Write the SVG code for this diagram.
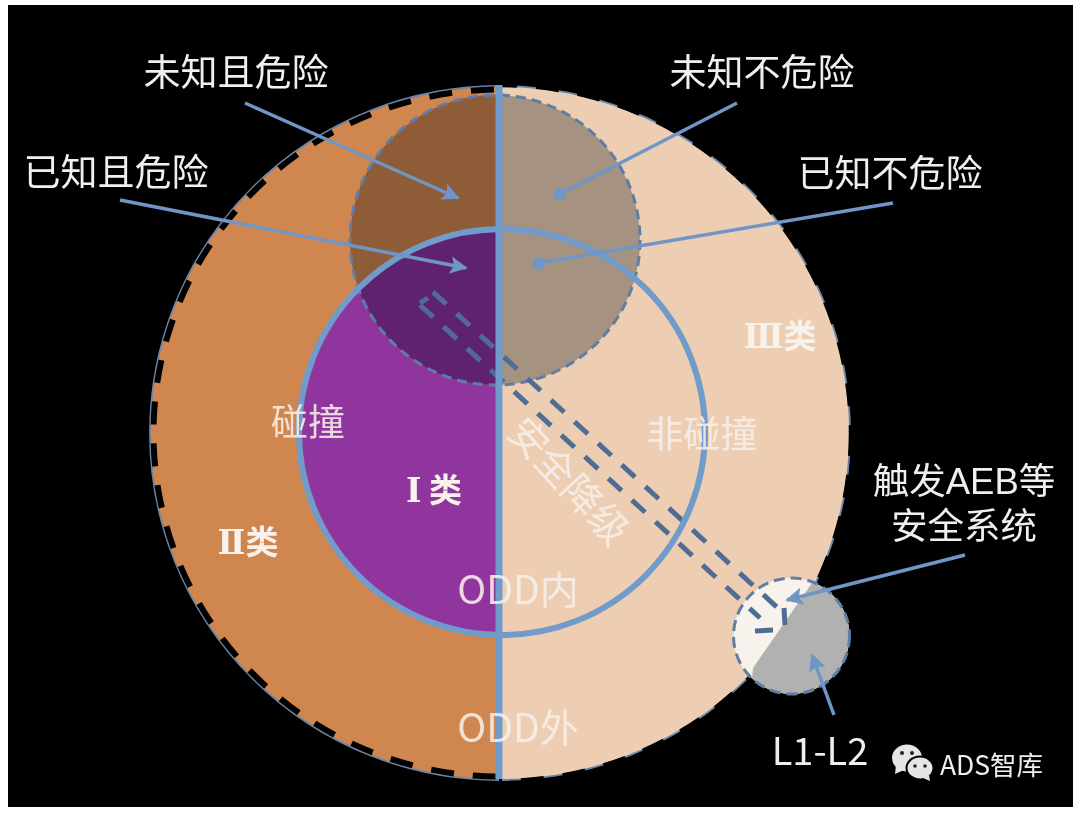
<svg xmlns="http://www.w3.org/2000/svg" width="1080" height="814" viewBox="0 0 1080 814">
<style>
text{font-family:"Noto Sans CJK SC","Liberation Sans",sans-serif;fill:#efefef;text-anchor:middle}
.lab{font-size:37px}
.two{font-family:"Liberation Sans","Noto Sans CJK SC",sans-serif;font-size:36.500px}
.mid{font-size:37px;fill:#f7efe9;opacity:.88}
.odd{font-size:39px;fill:#f7efe9;opacity:.88}
.cls{font-size:33px;font-weight:700;fill:#f8f1ec}
.num{font-family:"DejaVu Serif","Liberation Serif",serif;font-weight:700}
.arrow{fill:none;stroke:#6f96c6;stroke-width:3.500}
.dash{fill:none;stroke:#4f6d94;stroke-width:5;stroke-dasharray:18 14}
.end{fill:none;stroke:#4f6d94;stroke-width:5}
</style>
<defs>
<filter id="soft" x="0" y="0" width="100%" height="100%"><feGaussianBlur stdDeviation="0.600"/></filter>
<clipPath id="L"><rect x="0" y="0" width="499" height="814"/></clipPath>
<clipPath id="R"><rect x="499" y="0" width="581" height="814"/></clipPath>
<clipPath id="top"><circle cx="495" cy="240" r="145"/></clipPath>
<clipPath id="small"><circle cx="791.500" cy="636" r="58"/></clipPath>
<marker id="tri" viewBox="0 0 10 10" refX="9" refY="5" markerWidth="5" markerHeight="5" orient="auto"><path d="M0 0L10 5L0 10L2 5z" fill="#6f96c6"/></marker>
<marker id="dot" viewBox="0 0 10 10" refX="5" refY="5" markerWidth="4" markerHeight="3.600"><circle cx="5" cy="5" r="5" fill="#6f96c6"/></marker>
</defs>
<rect width="1080" height="814" fill="#fff"/>
<g filter="url(#soft)">
<rect x="8" y="5" width="1065" height="802" fill="#000"/>
<g id="outer-circle">
<ellipse cx="500" cy="433" rx="350" ry="347" fill="#d0864f" clip-path="url(#L)"/>
<ellipse cx="500" cy="433" rx="350" ry="347" fill="#edceb2" clip-path="url(#R)"/>
<ellipse cx="500" cy="433" rx="350" ry="347" fill="none" stroke="#6b86a8" stroke-width="1.800"/>
<g clip-path="url(#L)"><ellipse cx="500" cy="433" rx="346.500" ry="343.500" fill="none" stroke="#000" stroke-width="6" stroke-dasharray="23 19"/></g>
<g clip-path="url(#R)"><ellipse cx="500" cy="433" rx="350.500" ry="347.500" fill="none" stroke="#000" stroke-width="3.500" stroke-dasharray="23 19"/></g>
</g>
<g id="inner-circle">
<circle cx="502" cy="432" r="203" fill="#90359d" clip-path="url(#L)"/>
</g>
<g id="top-circle">
<circle cx="495" cy="240" r="145" fill="#8f5c38" clip-path="url(#L)"/>
<circle cx="495" cy="240" r="145" fill="#a59280" clip-path="url(#R)"/>
<g clip-path="url(#top)"><circle cx="502" cy="432" r="203" fill="#5f2470" clip-path="url(#L)"/></g>
<circle cx="495" cy="240" r="145" fill="none" stroke="#5f7ea6" stroke-width="3" stroke-dasharray="10 6"/>
</g>
<g id="small-circle">
<circle cx="791.500" cy="636" r="58" fill="#f8f2ec"/>
<path d="M753 668L812 583L860 600L860 700L750 700z" fill="#b1b1b1" clip-path="url(#small)"/>
<circle cx="791.500" cy="636" r="58" fill="none" stroke="#5f7ea6" stroke-width="3" stroke-dasharray="11 6"/>
</g>
<g id="connectors">
<path class="dash" d="M433 292L780 610"/>
<path class="dash" d="M420 305L760 618"/>
<path class="end" d="M420 303L428 298M784 608L785 625M755 631L773 630"/>
<circle cx="502" cy="432" r="203" fill="none" stroke="#6f9bcb" stroke-width="6"/>
<path d="M499 85V779" stroke="#6f9bcb" stroke-width="7" fill="none"/>
<path class="arrow" marker-end="url(#tri)" d="M245 103L458 198"/>
<path class="arrow" marker-end="url(#tri)" d="M120 200L466 268"/>
<path class="arrow" marker-end="url(#dot)" d="M737 103L560 194"/>
<path class="arrow" marker-end="url(#dot)" d="M893 203L539 263"/>
<path class="arrow" marker-end="url(#tri)" d="M965 555L787 600"/>
<path class="arrow" marker-end="url(#tri)" d="M834 715L812 655"/>
</g>
<g id="labels">
<text class="lab" x="236" y="86">未知且危险</text>
<text class="lab" x="762" y="86">未知不危险</text>
<text class="lab" x="116" y="186">已知且危险</text>
<text class="lab" x="890" y="187">已知不危险</text>
<text class="two" x="964" y="494">触发AEB等</text>
<text class="two" x="964" y="539">安全系统</text>
<text class="lab" x="820" y="765" style="font-size:38px">L1-L2</text>
<text class="mid" x="308" y="436">碰撞</text>
<text class="mid" x="702" y="448">非碰撞</text>
<text class="odd" x="518" y="604">ODD内</text>
<text class="odd" x="518" y="742">ODD外</text>
<text class="odd" transform="translate(568 482) rotate(47)" y="13">安全降级</text>
<text class="cls" x="434" y="502"><tspan class="num">Ⅰ</tspan> 类</text>
<text class="cls" x="248" y="554"><tspan class="num">Ⅱ</tspan>类</text>
<text class="cls" x="780" y="348"><tspan class="num">Ⅲ</tspan>类</text>
</g>
<g id="watermark">
<ellipse cx="907" cy="758" rx="15" ry="13.500" fill="#e6e6e6"/>
<path d="M896 765L895 774L904 770z" fill="#e6e6e6"/>
<ellipse cx="920" cy="768" rx="13.500" ry="11.500" fill="#e6e6e6" stroke="#000" stroke-width="2"/>
<path d="M923 778L930 781L929 775z" fill="#e6e6e6"/>
<circle cx="902" cy="753" r="2" fill="#222"/><circle cx="912" cy="753" r="2" fill="#222"/>
<circle cx="915" cy="766" r="1.800" fill="#222"/><circle cx="925" cy="766" r="1.800" fill="#222"/>
<text x="991.500" y="775" style="font-size:26.500px">ADS智库</text>
</g>
</g>
</svg>
